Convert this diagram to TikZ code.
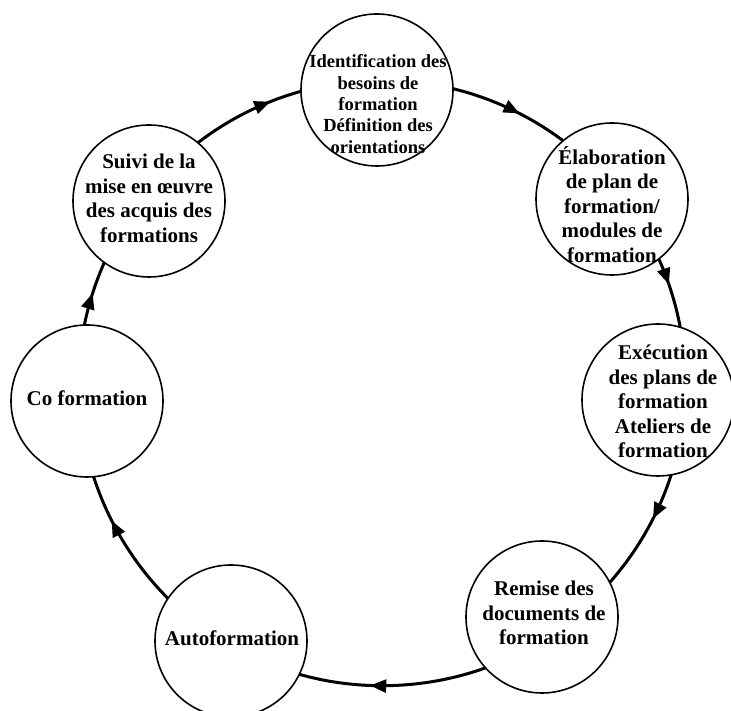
\documentclass[tikz,border=0pt]{standalone}
\usepackage{fontspec}
\setmainfont{Liberation Serif}
\usetikzlibrary{decorations.markings,arrows.meta}
\begin{document}
\begin{tikzpicture}[x=1pt,y=1pt,
  stage/.style={circle, draw, line width=1.6pt, minimum size=152pt, inner sep=0pt, outer sep=0pt},
  lbl/.style={align=center, font=\fontsize{21}{24.6}\selectfont\bfseries, inner sep=0pt},
  lblsmall/.style={lbl, font=\fontsize{18.5}{21.3}\selectfont\bfseries},
  link/.style={line width=3pt, looseness=0.86, postaction={decorate},
    decoration={markings, mark=at position #1 with {\arrow{Triangle[length=16pt,width=13pt]}}}},
]
\useasboundingbox (0,0) rectangle (731,711);
\node[stage] (n1) at (377,621) {};
\node[stage] (n2) at (612,512) {};
\node[stage] (n3) at (658,311) {};
\node[stage] (n4) at (542,94) {};
\node[stage] (n5) at (231,70) {};
\node[stage] (n6) at (87,310) {};
\node[stage] (n7) at (149,510) {};

\draw[link=0.58] (n1.1) to[bend left=11.6] (n2.130);
\draw[link=0.38] (n2.-52) to[bend left=6.8] (n3.73);
\draw[link=0.38] (n3.-80) to[bend left=11.8] (n4.27);
\draw[link=0.62] (n4.-138) to[bend left=17.9] (n5.-26);
\draw[link=0.67] (n5.146) to[bend left=13.6] (n6.-85);
\draw[link=0.5] (n6.92) to[bend left=6.2] (n7.-126);
\draw[link=0.72] (n7.50) to[bend left=11] (n1.181);

\node[lblsmall] (t1) at (378,607) {Identification des\\besoins de\\formation\\Définition des\\orientations};
\node[lbl] (t2) at (612,506.5) {Élaboration\\de plan de\\formation/\\modules de\\formation};
\node[lbl] (t3) at (663,309.5) {Exécution\\des plans de\\formation\\Ateliers de\\formation};
\node[lbl] (t4) at (544,98) {Remise des\\documents de\\formation};
\node[lbl] (t5) at (232,73) {Autoformation};
\node[lbl] (t6) at (87,313) {Co formation};
\node[lbl] (t7) at (149,512.5) {Suivi de la\\mise en œuvre\\des acquis des\\formations};
\end{tikzpicture}
\end{document}
